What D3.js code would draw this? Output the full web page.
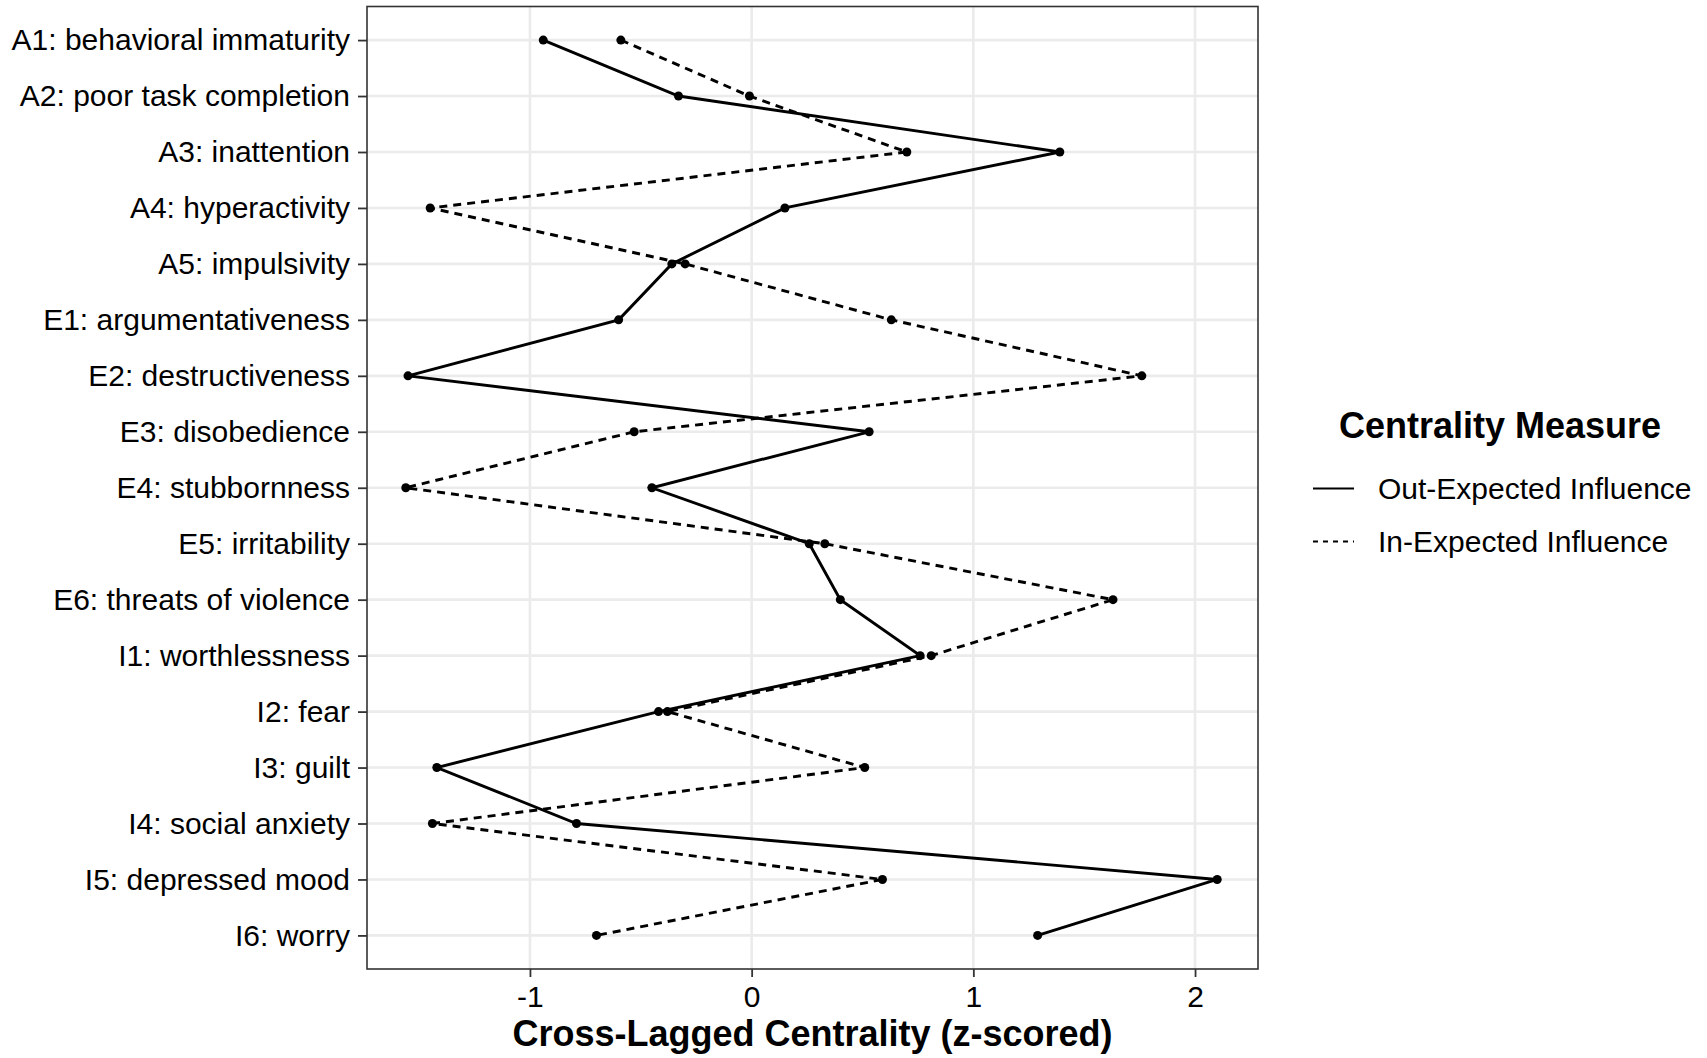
<!DOCTYPE html>
<html>
<head>
<meta charset="utf-8">
<script src="https://cdn.jsdelivr.net/npm/d3@7"></script>
<style>
  body { margin: 0; background: #fff; }
  svg text { font-family: "Liberation Sans", Arial, Helvetica, sans-serif; fill: #000; }
</style>
</head>
<body>
<div id="the_chart"></div>
<script>
// symptoms, top to bottom
var symptoms = ["A1: behavioral immaturity", "A2: poor task completion", "A3: inattention",
  "A4: hyperactivity", "A5: impulsivity", "E1: argumentativeness", "E2: destructiveness",
  "E3: disobedience", "E4: stubbornness", "E5: irritability", "E6: threats of violence",
  "I1: worthlessness", "I2: fear", "I3: guilt", "I4: social anxiety", "I5: depressed mood",
  "I6: worry"];

var outEI = [-0.94, -0.33, 1.39, 0.15, -0.36, -0.60, -1.55, 0.53, -0.45, 0.26, 0.40,
  0.76, -0.42, -1.42, -0.79, 2.10, 1.29];
var inEI = [-0.59, -0.01, 0.70, -1.45, -0.30, 0.63, 1.76, -0.53, -1.56, 0.33, 1.63,
  0.81, -0.38, 0.51, -1.44, 0.59, -0.70];

var measures = ["Out-Expected Influence", "In-Expected Influence"];
var xticks = [-1, 0, 1, 2];

var w = 1707, h = 1058;
// panel edges (note: "top" is taken by window.top)
var pLeft = 367, pRight = 1258, pTop = 6.5, pBottom = 969;

var svg = d3.select("#the_chart").append("svg")
    .attr("width", w).attr("height", h);

var xscale = d3.scaleLinear()
    .domain([-1.735, 2.284])   // ggplot 5% expansion
    .range([pLeft, pRight]);

var yscale = d3.scalePoint()
    .domain(symptoms)
    .range([pTop, pBottom])
    .padding(0.6);

// grid
svg.append("g").selectAll("line")
    .data(xticks).enter().append("line")
    .attr("x1", d => xscale(d)).attr("x2", d => xscale(d))
    .attr("y1", pTop).attr("y2", pBottom)
    .attr("stroke", "#ebebeb").attr("stroke-width", 2.6);
svg.append("g").selectAll("line")
    .data(symptoms).enter().append("line")
    .attr("x1", pLeft).attr("x2", pRight)
    .attr("y1", d => yscale(d)).attr("y2", d => yscale(d))
    .attr("stroke", "#ebebeb").attr("stroke-width", 2.6);

var series = [
  { name: measures[0], vals: outEI, dash: null },
  { name: measures[1], vals: inEI, dash: "8,6" }
];

var line = d3.line()
    .x(d => xscale(d.v))
    .y(d => yscale(d.s));

series.forEach(function (s) {
  var pts = s.vals.map((v, i) => ({ v: v, s: symptoms[i] }));
  svg.append("path")
      .datum(pts)
      .attr("d", line)
      .attr("fill", "none")
      .attr("stroke", "#000")
      .attr("stroke-width", 2.9)
      .attr("stroke-dasharray", s.dash);
  svg.append("g").selectAll("circle")
      .data(pts).enter().append("circle")
      .attr("cx", d => xscale(d.v))
      .attr("cy", d => yscale(d.s))
      .attr("r", 4.5)
      .attr("fill", "#000");
});

// panel border
svg.append("rect")
    .attr("x", pLeft).attr("y", pTop)
    .attr("width", pRight - pLeft).attr("height", pBottom - pTop)
    .attr("fill", "none").attr("stroke", "#333").attr("stroke-width", 1.6);

// axes
var yaxis = d3.axisLeft(yscale).tickSize(9).tickPadding(8);
var gY = svg.append("g")
    .attr("transform", "translate(" + pLeft + ",0)")
    .call(yaxis);

var xaxis = d3.axisBottom(xscale).tickValues(xticks).tickSize(8).tickPadding(9)
    .tickFormat(d => d < 0 ? "-" + Math.abs(d) : String(d));
var gX = svg.append("g")
    .attr("transform", "translate(0," + pBottom + ")")
    .call(xaxis);

[gX, gY].forEach(function (g) {
  g.select(".domain").remove();
  g.selectAll(".tick line").attr("stroke", "#333").attr("stroke-width", 1.8);
  g.selectAll(".tick text").style("font-size", "30px").attr("fill", "#000");
});

svg.append("text")
    .attr("x", (pLeft + pRight) / 2).attr("y", 1046)
    .attr("text-anchor", "middle")
    .style("font-size", "36px").style("font-weight", "bold")
    .text("Cross-Lagged Centrality (z-scored)");

// legend
var legend = svg.append("g");
legend.append("text")
    .attr("x", 1339).attr("y", 438)
    .style("font-size", "36px").style("font-weight", "bold")
    .text("Centrality Measure");

var items = legend.selectAll("g.item")
    .data(series).enter().append("g")
    .attr("class", "item")
    .attr("transform", (d, i) => "translate(0," + (488.5 + i * 53) + ")");
items.append("line")
    .attr("x1", 1313).attr("x2", 1354)
    .attr("stroke", "#000").attr("stroke-width", 2.2)
    .attr("stroke-dasharray", d => d.dash ? "5,5" : null);
items.append("text")
    .attr("x", 1378).attr("dy", "0.35em")
    .style("font-size", "30px")
    .text(d => d.name);
</script>
</body>
</html>
